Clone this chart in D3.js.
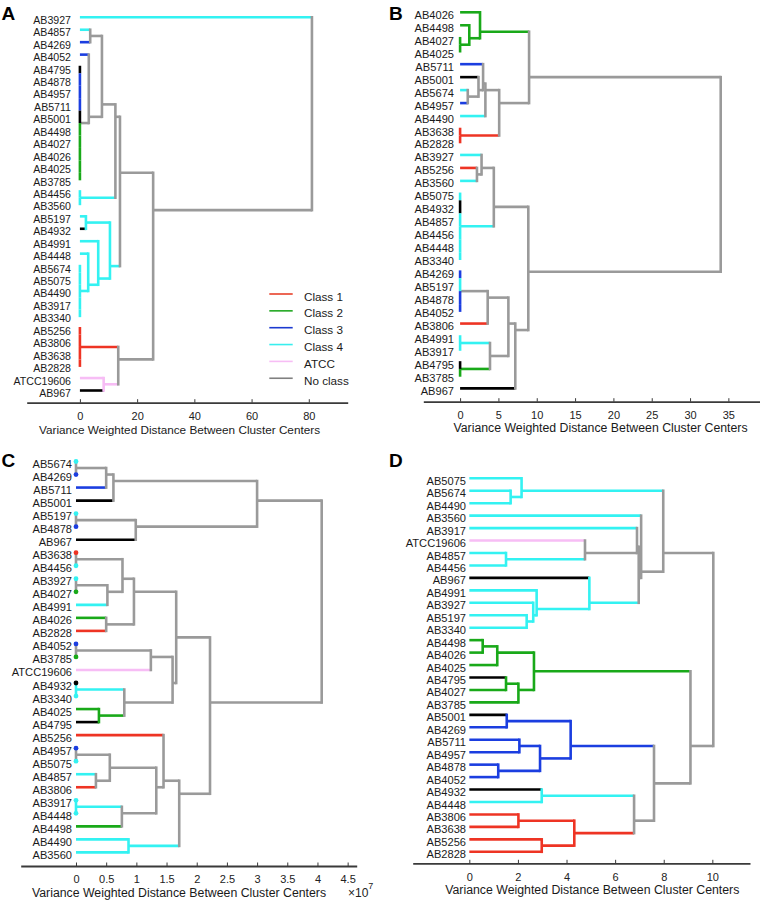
<!DOCTYPE html>
<html><head><meta charset="utf-8">
<script src="https://cdnjs.cloudflare.com/ajax/libs/d3/7.8.5/d3.min.js"></script>
<style>body{margin:0;background:#fff}svg{display:block}text{font-family:"Liberation Sans",Arial,sans-serif}</style>
</head><body>
<script>
// ---- class membership ----
const class1 = ["AB5256","AB3806","AB3638","AB2828"];
const class2 = ["AB4498","AB4027","AB4026","AB4025","AB3785"];
const class3 = ["AB4269","AB4052","AB4878","AB4957","AB5711"];
const class4 = ["AB3927","AB4857","AB4456","AB3560","AB5197","AB4991","AB4448","AB5674","AB5075","AB4490","AB3917","AB3340"];
const atccStrains = ["ATCC19606"];
const noClass = ["AB4795","AB5001","AB4932","AB967"];
const legendLabels = ["Class 1","Class 2","Class 3","Class 4","ATCC","No class"];
const axisTitle = "Variance Weighted Distance Between Cluster Centers";

// ---- panel A ----
const leavesA = ["AB3927","AB4857","AB4269","AB4052","AB4795","AB4878","AB4957","AB5711","AB5001","AB4498","AB4027","AB4026","AB4025","AB3785","AB4456","AB3560","AB5197","AB4932","AB4991","AB4448","AB5674","AB5075","AB4490","AB3917","AB3340","AB5256","AB3806","AB3638","AB2828","ATCC19606","AB967"];
// [children (leaf names or earlier link index), height, colour code]
const linksA = [
  [["AB4857","AB4269"], 3.6, 9],
  [["AB4795","AB4878","AB4957","AB5711","AB5001","AB4498","AB4027","AB4026","AB4025","AB3785"], 0, 9],
  [["AB4052", 1], 3.1, 9],
  [[0, 2], 7.7, 9],
  [["AB4456","AB3560"], 0, 4],
  [[3, 4], 12.4, 9],
  [["AB5197","AB4932"], 2.1, 4],
  [["AB5674","AB5075","AB4490","AB3917","AB3340"], 0, 4],
  [["AB4448", 7], 2.9, 4],
  [["AB4991", 8], 6.4, 4],
  [[6, 9], 10.5, 4],
  [[5, 10], 14.0, 9],
  [["AB5256","AB3806","AB3638","AB2828"], 0, 1],
  [["ATCC19606","AB967"], 8.3, 5],
  [[12, 13], 13.4, 9],
  [[11, 14], 25.6, 9],
  [["AB3927", 15], 81.1, 9]
];
const ticksA = [0, 20, 40, 60, 80];

// ---- panel B ----
const leavesB = ["AB4026","AB4498","AB4027","AB4025","AB5711","AB5001","AB5674","AB4957","AB4490","AB3638","AB2828","AB3927","AB5256","AB3560","AB5075","AB4932","AB4857","AB4456","AB4448","AB3340","AB4269","AB5197","AB4878","AB4052","AB3806","AB4991","AB3917","AB4795","AB3785","AB967"];
const linksB = [
  [["AB4027","AB4025"], 0, 2],
  [["AB4498", 0], 1.2, 2],
  [["AB4026", 1], 2.6, 2],
  [["AB5674","AB4957"], 1.0, 9],
  [["AB5001", 3], 2.4, 9],
  [["AB5711", 4], 3.0, 9],
  [[5, "AB4490"], 3.3, 9],
  [["AB3638","AB2828"], 0, 1],
  [[6, 7], 5.1, 9],
  [[2, 8], 9.0, 9],
  [["AB5256","AB3560"], 2.2, 9],
  [["AB3927", 10], 2.8, 9],
  [["AB5075","AB4932","AB4857","AB4456","AB4448","AB3340"], 0, 4],
  [[11, 12], 4.4, 9],
  [["AB4269","AB5197","AB4878","AB4052"], 0, 9],
  [[14, "AB3806"], 3.6, 9],
  [["AB4991","AB3917"], 0, 4],
  [["AB4795","AB3785"], 0, 2],
  [[16, 17], 3.9, 9],
  [[15, 18], 6.3, 9],
  [[19, "AB967"], 7.2, 9],
  [[13, 20], 8.9, 9],
  [[9, 21], 34.0, 9]
];
const ticksB = [0, 5, 10, 15, 20, 25, 30, 35];

// ---- panel C (distances x 10^7) ----
const leavesC = ["AB5674","AB4269","AB5711","AB5001","AB5197","AB4878","AB967","AB3638","AB4456","AB3927","AB4027","AB4991","AB4026","AB2828","AB4052","AB3785","ATCC19606","AB4932","AB3340","AB4025","AB4795","AB5256","AB4957","AB5075","AB4857","AB3806","AB3917","AB4448","AB4498","AB4490","AB3560"];
const linksC = [
  [["AB5674","AB4269"], 0, 9],
  [[0, "AB5711"], 0.5, 9],
  [[1, "AB5001"], 0.62, 9],
  [["AB5197","AB4878"], 0, 9],
  [[3, "AB967"], 0.99, 9],
  [[2, 4], 3.0, 9],
  [["AB3638","AB4456"], 0, 9],
  [["AB3927","AB4027"], 0, 9],
  [[7, "AB4991"], 0.52, 9],
  [[6, 8], 0.77, 9],
  [["AB4026","AB2828"], 0.5, 9],
  [[9, 10], 0.96, 9],
  [["AB4052","AB3785"], 0, 9],
  [[12, "ATCC19606"], 1.24, 9],
  [["AB4932","AB3340"], 0, 4],
  [["AB4025","AB4795"], 0.38, 2],
  [[14, 15], 0.8, 9],
  [[13, 16], 1.6, 9],
  [[11, 17], 1.66, 9],
  [["AB4957","AB5075"], 0, 9],
  [["AB4857","AB3806"], 0.33, 9],
  [[19, 20], 0.56, 9],
  [["AB3917","AB4448"], 0, 4],
  [[22, "AB4498"], 0.76, 9],
  [[21, 23], 1.33, 9],
  [["AB5256", 24], 1.45, 9],
  [["AB4490","AB3560"], 0.87, 4],
  [[25, 26], 1.71, 9],
  [[18, 27], 2.22, 9],
  [[5, 28], 4.07, 9]
];
const ticksC = [0, 0.5, 1, 1.5, 2, 2.5, 3, 3.5, 4, 4.5];

// ---- panel D ----
const leavesD = ["AB5075","AB5674","AB4490","AB3560","AB3917","ATCC19606","AB4857","AB4456","AB967","AB4991","AB3927","AB5197","AB3340","AB4498","AB4026","AB4025","AB4795","AB4027","AB3785","AB5001","AB4269","AB5711","AB4957","AB4878","AB4052","AB4932","AB4448","AB3806","AB3638","AB5256","AB2828"];
const linksD = [
  [["AB5674","AB4490"], 1.7, 4],
  [["AB5075", 0], 2.15, 4],
  [["AB4857","AB4456"], 1.51, 4],
  [["ATCC19606", 2], 4.76, 9],
  [["AB3917", 3], 6.9, 9],
  [["AB5197","AB3340"], 2.36, 4],
  [["AB3927", 5], 2.63, 4],
  [["AB4991", 6], 2.77, 4],
  [["AB967", 7], 4.94, 4],
  [[4, 8], 6.97, 9],
  [["AB3560", 9], 7.07, 9],
  [[1, 10], 7.98, 9],
  [["AB4498","AB4026"], 0.55, 2],
  [[12, "AB4025"], 1.15, 2],
  [["AB4795","AB4027"], 1.51, 2],
  [[14, "AB3785"], 2.02, 2],
  [[13, 15], 2.66, 2],
  [["AB5001","AB4269"], 1.54, 3],
  [["AB5711","AB4957"], 2.06, 3],
  [["AB4878","AB4052"], 1.19, 3],
  [[18, 19], 2.91, 3],
  [[17, 20], 4.17, 3],
  [["AB4932","AB4448"], 2.98, 4],
  [["AB3806","AB3638"], 2.02, 1],
  [["AB5256","AB2828"], 2.98, 1],
  [[23, 24], 4.32, 1],
  [[22, 25], 6.78, 9],
  [[21, 26], 7.6, 9],
  [[16, 27], 9.1, 9],
  [[11, 28], 10.04, 9]
];
const ticksD = [0, 2, 4, 6, 8, 10];

// ---- styling ----
const COLORS = {1:"#ee3424", 2:"#19a919", 3:"#1b3ee0", 4:"#33f2f2", 5:"#f7bdf5", 0:"#000000", 9:"#9a9a9a"};
const LEGEND_COLORS = ["#e8402a","#22a822","#1c3ad0","#38eeee","#f7bdf5","#808080"];
const FONT = '"Liberation Sans", Arial, sans-serif';
const LW = 2.6;

function classOf(n){
  if (class1.includes(n)) return 1;
  if (class2.includes(n)) return 2;
  if (class3.includes(n)) return 3;
  if (class4.includes(n)) return 4;
  if (atccStrains.includes(n)) return 5;
  return 0;
}

const svg = d3.select("body").append("svg").attr("width", 760).attr("height", 902);

function drawPanel(p){
  const g = svg.append("g");
  const x = d3.scaleLinear().domain(p.domain).range(p.xRange);
  const y = d3.scaleLinear().domain([0, p.leaves.length - 1]).range(p.yRange);
  const step = y(1) - y(0);
  const nodes = [];
  const info = ref => typeof ref === "string"
    ? {rows:[p.leaves.indexOf(ref)], pos:p.leaves.indexOf(ref), h:0, color:COLORS[classOf(ref)], leaf:true}
    : nodes[ref];
  p.links.forEach(([kids, h, c]) => {
    const ks = kids.map(info);
    const rows = ks.flatMap(k => k.rows);
    nodes.push({kids:ks, rows, h, color:COLORS[c], pos:d3.mean(rows)});
  });
  const legs = [], verts = [], dots = [];
  nodes.forEach(n => {
    n.kids.forEach(k => { if (n.h > k.h) legs.push({x1:x(k.h), x2:x(n.h), y:y(k.pos), c:k.color}); });
    const ys = n.kids.map(k => y(k.pos));
    const y0 = d3.min(ys), y1 = d3.max(ys);
    if (n.h > 0) {
      verts.push({x:x(n.h), y1:y0, y2:y1, c:n.color, cap:"square"});
    } else if (p.zero === "split") {
      n.kids.forEach(k => {
        const yc = y(k.pos);
        verts.push({x:x(0), y1:Math.max(y0 - 1.3, yc - step/2), y2:Math.min(y1 + 1.3, yc + step/2), c:k.color, cap:"butt"});
      });
    } else {
      verts.push({x:x(0), y1:y0, y2:y1, c:n.color, cap:"butt"});
      n.kids.forEach(k => dots.push({x:x(0), y:y(k.pos), c:k.color}));
    }
  });
  g.selectAll(".leg").data(legs).join("line")
    .attr("x1", d => d.x1).attr("x2", d => d.x2).attr("y1", d => d.y).attr("y2", d => d.y)
    .attr("stroke", d => d.c).attr("stroke-width", LW);
  g.selectAll(".vert").data(verts).join("line")
    .attr("x1", d => d.x).attr("x2", d => d.x).attr("y1", d => d.y1).attr("y2", d => d.y2)
    .attr("stroke", d => d.c).attr("stroke-width", LW).attr("stroke-linecap", d => d.cap);
  g.selectAll(".dot").data(dots).join("circle")
    .attr("cx", d => d.x).attr("cy", d => d.y).attr("r", 2.4).attr("fill", d => d.c);
  // leaf labels
  g.selectAll(".lab").data(p.leaves).join("text")
    .attr("x", p.labelX).attr("y", (d, i) => y(i) + 2.5)
    .attr("text-anchor", "end").attr("dominant-baseline", "central")
    .attr("font-size", p.labelSize).attr("fill", "#1a1a1a").text(d => d);
  // axis
  const ax = g.append("g").attr("transform", `translate(0,${p.axisY})`)
    .call(d3.axisBottom(x).tickValues(p.ticks).tickFormat(d => String(d))
      .tickSizeInner(-3.5).tickSizeOuter(0).tickPadding(9.5));
  ax.select(".domain").attr("stroke", "#3a3a3a").attr("stroke-width", 1.8);
  ax.selectAll(".tick line").attr("stroke", "#3a3a3a").attr("stroke-width", 1);
  ax.selectAll(".tick text").attr("font-size", 11).attr("fill", "#222").attr("font-family", FONT);
  g.append("text").attr("x", p.titleX).attr("y", p.axisY + 26.5)
    .attr("text-anchor", "middle").attr("dominant-baseline", "central")
    .attr("font-size", p.titleSize).attr("fill", "#1a1a1a").text(axisTitle);
  g.append("text").attr("x", p.letterX).attr("y", p.letterY)
    .attr("font-size", 19).attr("font-weight", "bold").attr("fill", "#000").text(p.letter);
  return {g, x, y};
}

const pA = drawPanel({letter:"A", letterX:1.5, letterY:20, leaves:leavesA, links:linksA, ticks:ticksA,
  domain:[-18.6, 93.6], xRange:[26.7, 347.7], yRange:[17.3, 390.5], axisY:402.7,
  labelX:71, labelSize:10.6, titleX:179.5, titleSize:11.75, zero:"split"});
drawPanel({letter:"B", letterX:389, letterY:20, leaves:leavesB, links:linksB, ticks:ticksB,
  domain:[-4.8, 39.1], xRange:[423.3, 759.8], yRange:[12.3, 388.4], axisY:401.7,
  labelX:454, labelSize:11.1, titleX:600.5, titleSize:12.3, zero:"split"});
const pC = drawPanel({letter:"C", letterX:1.5, letterY:467, leaves:leavesC, links:linksC, ticks:ticksC,
  domain:[-0.916, 4.65], xRange:[20.7, 356.7], yRange:[461.5, 852.4], axisY:866,
  labelX:72, labelSize:11.1, titleX:179, titleSize:12.3, zero:"dot"});
drawPanel({letter:"D", letterX:389, letterY:467, leaves:leavesD, links:linksD, ticks:ticksD,
  domain:[-2.33, 11.55], xRange:[412.7, 750], yRange:[478.3, 851.8], axisY:863.3,
  labelX:466, labelSize:11.1, titleX:592.3, titleSize:12.3, zero:"split"});

// exponent label for panel C
const expT = pC.g.append("text").attr("x", 348).attr("y", 897).attr("font-size", 12).attr("fill", "#222");
expT.append("tspan").text("×10");
expT.append("tspan").attr("dy", -8).attr("font-size", 9).text("7");

// legend in panel A
const lg = pA.g.append("g").attr("transform", "translate(269.3,294)");
const li = lg.selectAll("g").data(legendLabels).join("g").attr("transform", (d, i) => `translate(0,${i * 16.85})`);
li.append("line").attr("x1", 0).attr("x2", 23.4).attr("y1", 0).attr("y2", 0)
  .attr("stroke", (d, i) => LEGEND_COLORS[i]).attr("stroke-width", 1.6);
li.append("text").attr("x", 34.7).attr("y", 2).attr("dominant-baseline", "central")
  .attr("font-size", 11.7).attr("fill", "#1a1a1a").text(d => d);
</script>
</body></html>
